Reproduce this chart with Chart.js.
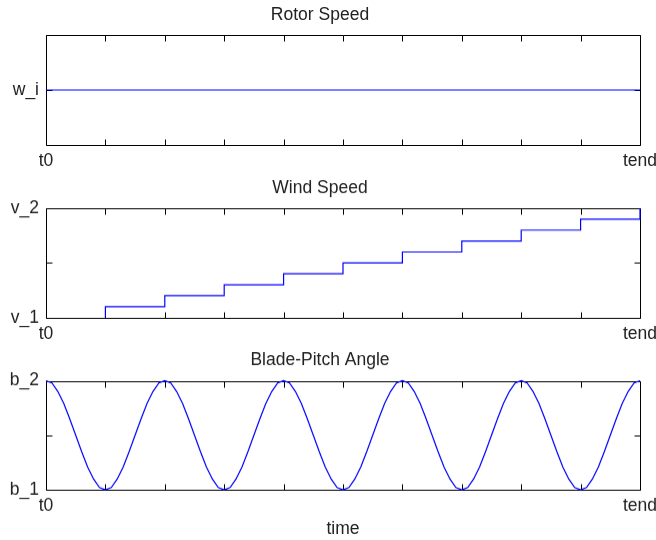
<!DOCTYPE html>
<html>
<head>
<meta charset="utf-8">
<script src="https://cdn.jsdelivr.net/npm/chart.js@4.4.1/dist/chart.umd.min.js"></script>
<style>
  body { margin: 0; background: #fff; }
  .plot { position: absolute; left: 0; width: 656px; }
</style>
</head>
<body>
<div class="plot" style="top:0px;height:175px"><canvas id="rotorChart"></canvas></div>
<div class="plot" style="top:173px;height:173.7px"><canvas id="windChart"></canvas></div>
<div class="plot" style="top:345px;height:193.5px"><canvas id="pitchChart"></canvas></div>
<script>
// eixo do tempo (comum aos tres graficos)
const tickTimes = [0, 1, 2, 3, 4, 5, 6, 7, 8, 9, 10];
const tickNames = ['t0', '', '', '', '', '', '', '', '', '', 'tend'];

// Rotor Speed
const rotorTime = [0, 10];
const rotorSpeed = [1, 1];
const rotorTicks = [1];
const rotorTickNames = ['w_i'];

// Wind Speed (degraus)
const windTime = [1, 2, 3, 4, 5, 6, 7, 8, 9, 10, 10];
const windSpeed = [0, 0.1, 0.2, 0.3, 0.4, 0.5, 0.6, 0.7, 0.8, 0.9, 1];
const windTicks = [0, 0.5, 1];
const windTickNames = ['v_1', '', 'v_2'];

// Blade-Pitch Angle
const pitchTime = [
  0, 0.1, 0.2, 0.3, 0.4, 0.5, 0.6, 0.7, 0.8, 0.9,
  1, 1.1, 1.2, 1.3, 1.4, 1.5, 1.6, 1.7, 1.8, 1.9,
  2, 2.1, 2.2, 2.3, 2.4, 2.5, 2.6, 2.7, 2.8, 2.9,
  3, 3.1, 3.2, 3.3, 3.4, 3.5, 3.6, 3.7, 3.8, 3.9,
  4, 4.1, 4.2, 4.3, 4.4, 4.5, 4.6, 4.7, 4.8, 4.9,
  5, 5.1, 5.2, 5.3, 5.4, 5.5, 5.6, 5.7, 5.8, 5.9,
  6, 6.1, 6.2, 6.3, 6.4, 6.5, 6.6, 6.7, 6.8, 6.9,
  7, 7.1, 7.2, 7.3, 7.4, 7.5, 7.6, 7.7, 7.8, 7.9,
  8, 8.1, 8.2, 8.3, 8.4, 8.5, 8.6, 8.7, 8.8, 8.9,
  9, 9.1, 9.2, 9.3, 9.4, 9.5, 9.6, 9.7, 9.8, 9.9,
  10
];
const pitchAngle = [
  1, 0.98, 0.9, 0.79, 0.65, 0.5, 0.35, 0.21, 0.1, 0.02, 0, 0.02, 0.1, 0.21, 0.35, 0.5, 0.65, 0.79, 0.9, 0.98,
  1, 0.98, 0.9, 0.79, 0.65, 0.5, 0.35, 0.21, 0.1, 0.02, 0, 0.02, 0.1, 0.21, 0.35, 0.5, 0.65, 0.79, 0.9, 0.98,
  1, 0.98, 0.9, 0.79, 0.65, 0.5, 0.35, 0.21, 0.1, 0.02, 0, 0.02, 0.1, 0.21, 0.35, 0.5, 0.65, 0.79, 0.9, 0.98,
  1, 0.98, 0.9, 0.79, 0.65, 0.5, 0.35, 0.21, 0.1, 0.02, 0, 0.02, 0.1, 0.21, 0.35, 0.5, 0.65, 0.79, 0.9, 0.98,
  1, 0.98, 0.9, 0.79, 0.65, 0.5, 0.35, 0.21, 0.1, 0.02, 0, 0.02, 0.1, 0.21, 0.35, 0.5, 0.65, 0.79, 0.9, 0.98,
  1
];
const pitchTicks = [0, 0.5, 1];
const pitchTickNames = ['b_1', '', 'b_2'];

Chart.defaults.font.family = '"Liberation Sans", Arial, sans-serif';
Chart.defaults.font.size = 17.5;
Chart.defaults.color = '#222';

// caixa preta com ticks para dentro (estilo MATLAB)
const boxPlugin = {
  id: 'box',
  beforeDatasetsDraw(chart) {
    const { ctx, chartArea: a, scales: { x, y } } = chart;
    const l = Math.round(a.left) + 0.5, r = Math.round(a.right) + 0.5;
    const t = Math.round(a.top) + 0.5, b = Math.round(a.bottom) + 0.5;
    ctx.save();
    ctx.strokeStyle = '#000';
    ctx.lineWidth = 1;
    ctx.beginPath();
    x.ticks.forEach(tk => {
      const px = Math.round(x.getPixelForValue(tk.value)) + 0.5;
      ctx.moveTo(px, b); ctx.lineTo(px, b - 6);
      ctx.moveTo(px, t); ctx.lineTo(px, t + 6);
    });
    y.ticks.forEach(tk => {
      const py = Math.round(y.getPixelForValue(tk.value)) + 0.5;
      ctx.moveTo(l, py); ctx.lineTo(l + 6, py);
      ctx.moveTo(r, py); ctx.lineTo(r - 6, py);
    });
    ctx.rect(l, t, r - l, b - t);
    ctx.stroke();
    ctx.restore();
  }
};

function makePlot(id, o) {
  const points = o.time.map((t, i) => ({ x: t, y: o.values[i] }));
  new Chart(document.getElementById(id), {
    type: 'line',
    data: {
      datasets: [{
        data: points,
        borderColor: '#0000ff',
        borderWidth: 1.2,
        pointRadius: 0,
        tension: 0,
        stepped: o.stepped || false,
        clip: 3
      }]
    },
    options: {
      responsive: true,
      maintainAspectRatio: false,
      animation: false,
      layout: { padding: { left: 0, right: 16, top: 0, bottom: 0 } },
      plugins: {
        legend: { display: false },
        tooltip: { enabled: false },
        title: {
          display: true,
          text: o.title,
          padding: { top: o.titleTop, bottom: 9.5 },
          font: { size: 17.5, weight: 'normal' },
          color: '#222'
        }
      },
      scales: {
        x: {
          type: 'linear',
          min: 0,
          max: 10,
          grid: { display: false, drawTicks: false },
          border: { display: false },
          afterBuildTicks: s => { s.ticks = tickTimes.map(v => ({ value: v })); },
          afterFit: s => { s.height = o.xHeight; s.paddingLeft = 0; s.paddingRight = 0; },
          ticks: {
            autoSkip: false,
            maxRotation: 0,
            padding: 6,
            callback: v => tickNames[tickTimes.indexOf(v)]
          },
          title: {
            display: !!o.xTitle,
            text: o.xTitle || '',
            padding: 0,
            font: { size: 17.5 }
          }
        },
        y: {
          type: 'linear',
          min: o.yMin,
          max: o.yMax,
          grid: { display: false, drawTicks: false },
          border: { display: false },
          afterBuildTicks: s => { s.ticks = o.yTicks.map(v => ({ value: v })); },
          afterFit: s => { s.width = 46; s.paddingTop = 0; s.paddingBottom = 0; },
          ticks: {
            autoSkip: false,
            padding: 7,
            callback: v => o.yNames[o.yTicks.indexOf(v)]
          }
        }
      }
    },
    plugins: [boxPlugin]
  });
}

makePlot('rotorChart', {
  title: 'Rotor Speed', titleTop: 4.5, xHeight: 30,
  time: rotorTime, values: rotorSpeed,
  yMin: 0, yMax: 2, yTicks: rotorTicks, yNames: rotorTickNames
});

makePlot('windChart', {
  title: 'Wind Speed', titleTop: 4.5, xHeight: 30, stepped: 'after',
  time: windTime, values: windSpeed,
  yMin: 0, yMax: 1, yTicks: windTicks, yNames: windTickNames
});

makePlot('pitchChart', {
  title: 'Blade-Pitch Angle', titleTop: 5, xHeight: 49.5, xTitle: 'time',
  time: pitchTime, values: pitchAngle,
  yMin: 0, yMax: 1, yTicks: pitchTicks, yNames: pitchTickNames
});
</script>
</body>
</html>
